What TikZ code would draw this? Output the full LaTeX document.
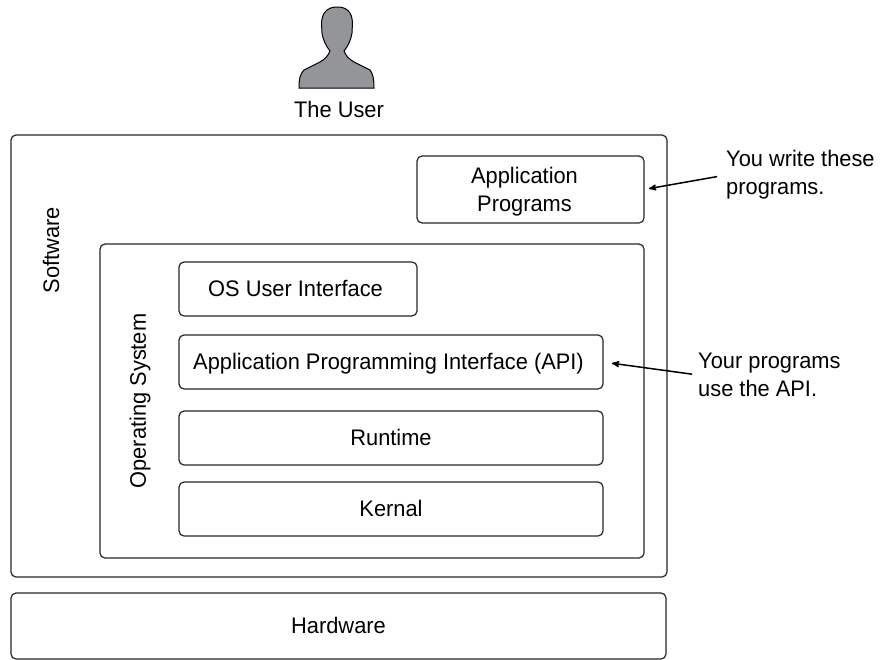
\documentclass[tikz,border=0pt]{standalone}
\usepackage{fontspec}
\setmainfont[FakeStretch=0.97]{Liberation Sans}
\usepackage{tikz}
\usetikzlibrary{arrows, positioning}
\definecolor{usergray}{RGB}{147,149,152}
\tikzset{
  layer/.style = {draw=black!85, rounded corners=5pt, line width=1.2pt, inner sep=0pt,
    outer sep=0pt, align=center, anchor=north west, text height=16pt, text depth=2pt,
    font=\fontsize{22.5}{28}\selectfont},
  note/.style = {align=left, anchor=west, inner sep=0pt, font=\fontsize{22.5}{28}\selectfont},
  sidelabel/.style = {rotate=90, inner sep=0pt, font=\fontsize{22.5}{28}\selectfont}
}

\begin{document}
\begin{tikzpicture}[x=1pt, y=-1pt, ->,>=stealth']
\useasboundingbox (0,0) rectangle (882,659);
% the user
\draw [-, fill=usergray, draw=black, line width=1pt] (299,88)
  .. controls (299,79) and (300,74) .. (304,70) -- (320,62)
  .. controls (325,59) and (328,56) .. (330,51)
  .. controls (326,46) and (323,40) .. (322,33) -- (321.5,23)
  .. controls (322,12) and (328,7) .. (337,7)
  .. controls (347,7) and (352,12) .. (352.5,23) -- (352,33)
  .. controls (351,40) and (348,46) .. (344,51)
  .. controls (346,56) and (349,59) .. (354,62) -- (370,70)
  .. controls (373,74) and (374,79) .. (374,88) -- cycle;
\node [inner sep=0pt, font=\fontsize{22.5}{28}\selectfont] (user) at (339,109) {The User};
% boxes
\node [layer, minimum width=656pt, minimum height=442pt] (software) at (11,135) {};
\node [layer, minimum width=655pt, minimum height=66pt] (hardware) at (11,593) {Hardware};
\node [layer, text height=45pt, minimum width=227pt, minimum height=67pt] (apps) at (417,156) {Application\hspace*{12pt}\\Programs\hspace*{12pt}};
\node [layer, minimum width=544pt, minimum height=314pt] (os) at (100,244) {};
\node [layer, minimum width=238pt, minimum height=54pt] (ui) at (179,262) {OS User Interface\hspace*{5pt}};
\node [layer, minimum width=424pt, minimum height=54pt] (api) at (179,335) {Application Programming Interface (API)\hspace*{5pt}};
\node [layer, minimum width=424pt, minimum height=54pt] (runtime) at (179,411) {Runtime};
\node [layer, minimum width=424pt, minimum height=54pt] (kernal) at (179,482) {Kernal};
% side labels
\node [sidelabel] (softlabel) at (51,250) {Software};
\node [sidelabel] (oslabel) at (140,401) {Operating System};
% notes
\node [note] (writenote) at (726,175) {You write these\\programs.};
\node [note] (apinote) at (698,375) {Your programs\\use the API.};
\draw [line width=1.5pt, shorten <=9pt, shorten >=5pt] (writenote.west) -- (apps.east);
\draw [line width=1.5pt, shorten <=6pt, shorten >=9pt] (apinote.west) -- (api.east);
\end{tikzpicture}
\end{document}
